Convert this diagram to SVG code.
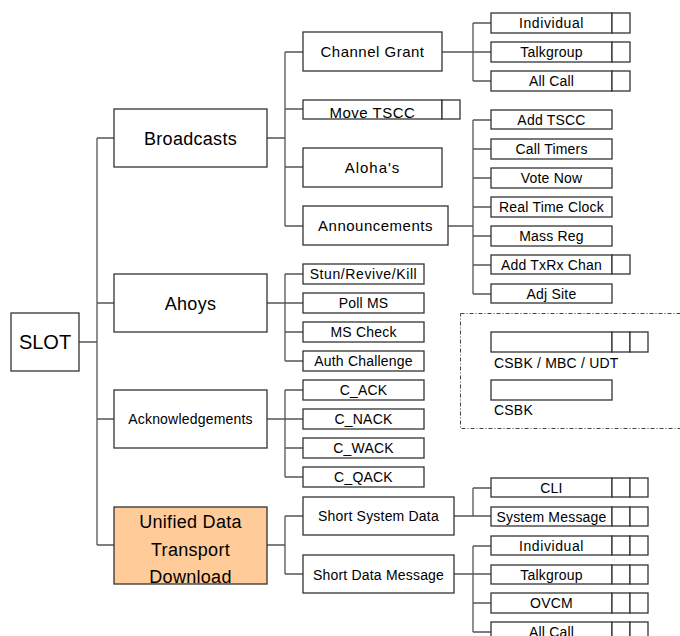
<svg xmlns="http://www.w3.org/2000/svg" width="680" height="636" viewBox="0 0 680 636">
<style>
rect{fill:#fff;stroke:#333;stroke-width:1.3}
.udt{fill:#ffcc99}
.leg{fill:none;stroke:#444;stroke-width:1;stroke-dasharray:4 2 1 2}
text{font-family:"Liberation Sans",Arial,sans-serif;fill:#000;text-anchor:middle}
.f20{font-size:20px}
.f18{font-size:18px;letter-spacing:0.3px}
.f15{font-size:15px;letter-spacing:0.5px}
.f14{font-size:14px;letter-spacing:0.2px}
.l{text-anchor:start}
#connectors path{fill:none;stroke:#555;stroke-width:1.3}
</style>
<rect x="0" y="0" width="680" height="636" style="fill:#fff;stroke:none"/>
<g id="connectors">
<path d="M79 342H97M97 138V545M97 138H114M97 303H114M97 419H114M97 545H114"/>
<path d="M267 138H285M285 52V226M285 52H303M285 109H303M285 167H303M285 226H303"/>
<path d="M267 303H303M285 274V361M285 274H303M285 332H303M285 361H303"/>
<path d="M267 419H303M285 390V477M285 390H303M285 448H303M285 477H303"/>
<path d="M267 545H285M285 516V574M285 516H303M285 574H303"/>
<path d="M442 52H491M473 23V81M473 23H491M473 81H491"/>
<path d="M448 226H473M473 120V294M473 120H491M473 149H491M473 178H491M473 207H491M473 236H491M473 265H491M473 294H491"/>
<path d="M454 516H491M473 488V516M473 488H491"/>
<path d="M454 574H491M473 546V632M473 546H491M473 603H491M473 632H491"/>
</g>
<g id="slot"><rect x="11" y="313" width="68" height="58"/><text class="f20" x="45" y="349">SLOT</text></g>
<g id="broadcasts"><rect x="114" y="109" width="153" height="58"/><text class="f18" x="190.5" y="145">Broadcasts</text></g>
<g id="ahoys"><rect x="114" y="274" width="153" height="58"/><text class="f18" x="190.5" y="310">Ahoys</text></g>
<g id="acknowledgements"><rect x="114" y="390" width="153" height="58"/><text class="f14" x="190.5" y="424">Acknowledgements</text></g>
<g id="udt"><rect class="udt" x="114" y="507" width="153" height="77"/><text class="f18" x="190.5" y="528">Unified Data</text><text class="f18" x="190.5" y="556">Transport</text><text class="f18" x="190.5" y="583">Download</text></g>

<g id="channel-grant"><rect x="303" y="32" width="139" height="39"/><text class="f15" x="372.5" y="57">Channel Grant</text></g>
<g id="move-tscc"><rect x="303" y="100" width="139" height="19"/><rect x="442" y="100" width="18" height="19"/><text class="f15" x="372.5" y="118">Move TSCC</text></g>
<g id="alohas"><rect x="303" y="148" width="139" height="39"/><text class="f15" x="372.5" y="173" style="letter-spacing:1px">Aloha's</text></g>
<g id="announcements"><rect x="303" y="206" width="145" height="39"/><text class="f15" x="375.5" y="231">Announcements</text></g>

<g id="stun"><rect x="303" y="264" width="121" height="20"/><text class="f14" x="363.5" y="279" style="letter-spacing:0.6px">Stun/Revive/Kill</text></g>
<g id="poll-ms"><rect x="303" y="293" width="121" height="20"/><text class="f14" x="363.5" y="308">Poll MS</text></g>
<g id="ms-check"><rect x="303" y="322" width="121" height="20"/><text class="f14" x="363.5" y="337">MS Check</text></g>
<g id="auth-challenge"><rect x="303" y="351" width="121" height="20"/><text class="f14" x="363.5" y="366">Auth Challenge</text></g>

<g id="c-ack"><rect x="303" y="380" width="121" height="20"/><text class="f14" x="363.5" y="395">C_ACK</text></g>
<g id="c-nack"><rect x="303" y="409" width="121" height="20"/><text class="f14" x="363.5" y="424">C_NACK</text></g>
<g id="c-wack"><rect x="303" y="438" width="121" height="20"/><text class="f14" x="363.5" y="453">C_WACK</text></g>
<g id="c-qack"><rect x="303" y="467" width="121" height="20"/><text class="f14" x="363.5" y="482">C_QACK</text></g>

<g id="short-system-data"><rect x="303" y="497" width="151" height="38"/><text class="f14" x="378.5" y="521">Short System Data</text></g>
<g id="short-data-message"><rect x="303" y="555" width="151" height="38"/><text class="f14" x="378.5" y="580">Short Data Message</text></g>

<g id="cg-individual"><rect x="491" y="13" width="121" height="20"/><rect x="612" y="13" width="18" height="20"/><text class="f14" x="551.5" y="28" style="letter-spacing:0.6px">Individual</text></g>
<g id="cg-talkgroup"><rect x="491" y="42" width="121" height="20"/><rect x="612" y="42" width="18" height="20"/><text class="f14" x="551.5" y="57">Talkgroup</text></g>
<g id="cg-allcall"><rect x="491" y="71" width="121" height="20"/><rect x="612" y="71" width="18" height="20"/><text class="f14" x="551.5" y="86">All Call</text></g>

<g id="add-tscc"><rect x="491" y="110" width="121" height="19"/><text class="f14" x="551.5" y="125">Add TSCC</text></g>
<g id="call-timers"><rect x="491" y="139" width="121" height="20"/><text class="f14" x="551.5" y="154">Call Timers</text></g>
<g id="vote-now"><rect x="491" y="168" width="121" height="20"/><text class="f14" x="551.5" y="183">Vote Now</text></g>
<g id="real-time-clock"><rect x="491" y="197" width="121" height="20"/><text class="f14" x="551.5" y="212">Real Time Clock</text></g>
<g id="mass-reg"><rect x="491" y="226" width="121" height="20"/><text class="f14" x="551.5" y="241">Mass Reg</text></g>
<g id="add-txrx-chan"><rect x="491" y="255" width="121" height="19"/><rect x="612" y="255" width="18" height="19"/><text class="f14" x="551.5" y="270">Add TxRx Chan</text></g>
<g id="adj-site"><rect x="491" y="284" width="121" height="19"/><text class="f14" x="551.5" y="299">Adj Site</text></g>

<g id="legend">
<rect class="leg" x="460.5" y="313.5" width="260" height="115"/>
<rect x="491" y="332" width="121" height="20"/><rect x="612" y="332" width="18" height="20"/><rect x="630" y="332" width="18" height="20"/>
<text class="f14 l" x="494" y="368">CSBK / MBC / UDT</text>
<rect x="491" y="380" width="121" height="20"/>
<text class="f14 l" x="494" y="415">CSBK</text>
</g>

<g id="cli"><rect x="491" y="478" width="121" height="19"/><rect x="612" y="478" width="18" height="19"/><rect x="630" y="478" width="18" height="19"/><text class="f14" x="551.5" y="493">CLI</text></g>
<g id="system-message"><rect x="491" y="507" width="121" height="19"/><rect x="612" y="507" width="18" height="19"/><rect x="630" y="507" width="18" height="19"/><text class="f14" x="551.5" y="522">System Message</text></g>

<g id="sd-individual"><rect x="491" y="536" width="121" height="19"/><rect x="612" y="536" width="18" height="19"/><rect x="630" y="536" width="18" height="19"/><text class="f14" x="551.5" y="551" style="letter-spacing:0.6px">Individual</text></g>
<g id="sd-talkgroup"><rect x="491" y="565" width="121" height="19"/><rect x="612" y="565" width="18" height="19"/><rect x="630" y="565" width="18" height="19"/><text class="f14" x="551.5" y="580">Talkgroup</text></g>
<g id="sd-ovcm"><rect x="491" y="593" width="121" height="20"/><rect x="612" y="593" width="18" height="20"/><rect x="630" y="593" width="18" height="20"/><text class="f14" x="551.5" y="608">OVCM</text></g>
<g id="sd-allcall"><rect x="491" y="622" width="121" height="20"/><rect x="612" y="622" width="18" height="20"/><rect x="630" y="622" width="18" height="20"/><text class="f14" x="551.5" y="637">All Call</text></g>
</svg>
